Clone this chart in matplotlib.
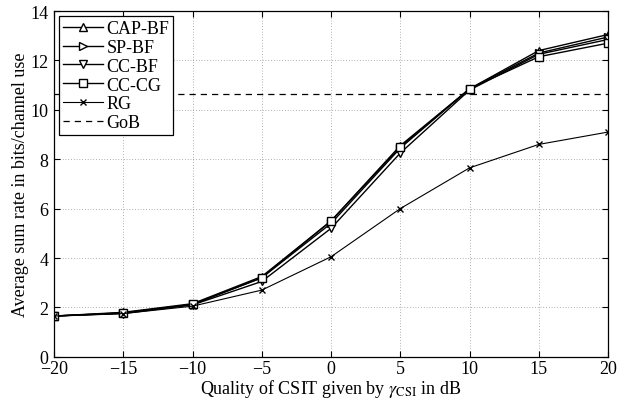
import matplotlib
matplotlib.use("Agg")
import matplotlib.pyplot as plt

x = [-20, -15, -10, -5, 0, 5, 10, 15, 20]
cap_bf = [1.65, 1.80, 2.15, 3.25, 5.50, 8.55, 10.85, 12.40, 13.05]
sp_bf = [1.65, 1.78, 2.12, 3.20, 5.40, 8.45, 10.85, 12.30, 12.95]
cc_bf = [1.65, 1.75, 2.10, 3.05, 5.20, 8.25, 10.80, 12.25, 12.85]
cc_cg = [1.65, 1.77, 2.12, 3.20, 5.50, 8.50, 10.85, 12.15, 12.70]
rg = [1.65, 1.75, 2.05, 2.70, 4.05, 6.00, 7.65, 8.60, 9.10]
gob = 10.65

plt.rcParams['font.family'] = ['Liberation Serif', 'DejaVu Serif']
plt.rcParams['mathtext.fontset'] = 'stix'

fig = plt.figure(figsize=(6.26, 4.02), dpi=100)
ax = fig.add_axes([0.0863, 0.11, 0.885, 0.86])

mk = dict(color='black', markerfacecolor='white', markeredgecolor='black', markersize=6, linewidth=1.0)
ax.plot(x, cap_bf, marker='^', label='CAP-BF', **mk)
ax.plot(x, sp_bf, marker='>', label='SP-BF', **mk)
ax.plot(x, cc_bf, marker='v', label='CC-BF', **mk)
ax.plot(x, cc_cg, marker='s', label='CC-CG', **mk)
ax.plot(x, rg, marker='x', color='black', linewidth=0.8, markersize=5, label='RG')
ax.plot([x[0], x[-1]], [gob, gob], '--', color='black', linewidth=0.9, dashes=(5, 4), label='GoB')

ax.set_xlim(-20, 20)
ax.set_ylim(0, 14)
ax.set_xticks(range(-20, 21, 5))
ax.set_yticks(range(0, 15, 2))
ax.set_xticklabels(['\u2212' + str(-v) if v < 0 else str(v) for v in range(-20, 21, 5)])
ax.grid(True, linestyle=(0, (1, 3)), color='black', linewidth=0.5, alpha=0.6)
ax.tick_params(direction='in', top=True, right=True, labelsize=13, length=4, pad=2)
ax.tick_params(axis='y', pad=4)
for s in ax.spines.values():
    s.set_linewidth(0.9)

ax.set_xlabel(r'Quality of CSIT given by $\gamma_{\mathrm{CSI}}$ in dB', fontsize=13, labelpad=0)
ax.set_ylabel('Average sum rate in bits/channel use', fontsize=13, labelpad=1)

leg = ax.legend(loc='upper left', fontsize=13, frameon=True, fancybox=False, edgecolor='black',
                framealpha=1, borderaxespad=0.3, handlelength=2.2, labelspacing=0.1,
                handletextpad=0.2, borderpad=0.2)
leg.get_frame().set_linewidth(0.9)

fig.savefig('out.png', dpi=100)
